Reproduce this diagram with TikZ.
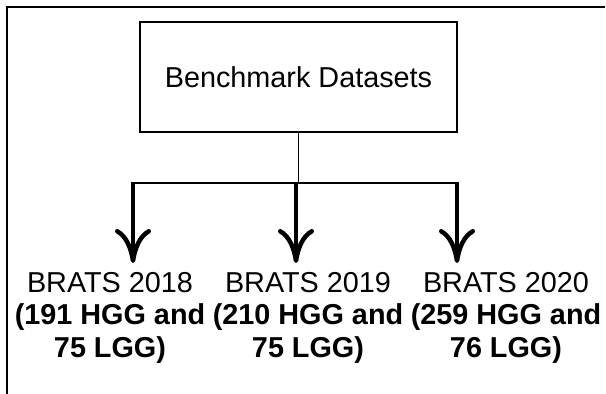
\documentclass[tikz,border=0pt]{standalone}
\usepackage{fontspec}
\setmainfont{Liberation Sans}
\usetikzlibrary{arrows.meta, positioning}

\begin{document}
\begin{tikzpicture}[x=1pt,y=-1pt,>={Computer Modern Rightarrow[length=34pt,width=36pt]},
                    node distance=198pt,line width=1.3pt]
  \tikzstyle{every node}=[font=\fontsize{28.8}{32.5}\selectfont]
  \tikzstyle{dataset}=[align=center,inner sep=0pt]
  \tikzstyle{feed}=[->,line width=4.5pt]
  \useasboundingbox (0,0) rectangle (606,394);
  \draw[line width=1.5pt] (605,7) -- (7,7) -- (7,394);

  \node[draw,minimum width=317pt,minimum height=110pt] (bench) at (298.5,77) {Benchmark Datasets};
  \node[dataset] (b18) at (110,317.5)  {BRATS 2018\\\textbf{(191 HGG and}\\\textbf{75 LGG)}};
  \node[dataset] (b19) [right of=b18] {BRATS 2019\\\textbf{(210 HGG and}\\\textbf{75 LGG)}};
  \node[dataset] (b20) [right of=b19] {BRATS 2020\\\textbf{(259 HGG and}\\\textbf{76 LGG)}};

  \coordinate (split) at (298.5,183);
  \coordinate (left) at (131,183);
  \coordinate (right) at (459,183);
  \coordinate (s18) at (133,182);
  \coordinate (s19) at (296,182);
  \coordinate (s20) at (457,182);
  \coordinate (t18) at (133,263);
  \coordinate (t19) at (296,263);
  \coordinate (t20) at (457,263);

  \draw (bench.south) -- (split);
  \draw[line width=1.5pt] (left) -- (right);
  \path[feed] (s18) edge (t18)
              (s19) edge (t19)
              (s20) edge (t20);
\end{tikzpicture}
\end{document}
